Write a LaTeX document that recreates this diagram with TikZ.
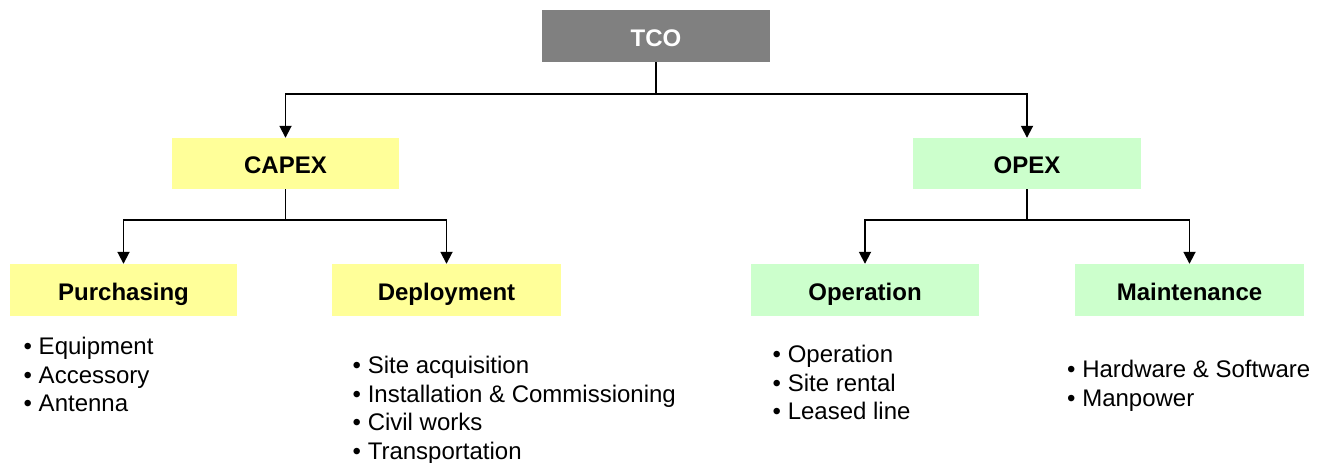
\documentclass[tikz,border=0pt]{standalone}
\usepackage{fontspec}
\setmainfont{Liberation Sans}
\usetikzlibrary{arrows.meta}
\definecolor{tcogray}{RGB}{128,128,128}
\definecolor{capyellow}{RGB}{255,255,153}
\definecolor{opgreen}{RGB}{204,255,204}
\begin{document}
\begin{tikzpicture}[x=1pt,y=-1pt,
  box/.style={draw=none,inner sep=0pt,font=\fontsize{24}{28.5}\selectfont\bfseries,minimum height=52pt,text height=20pt,text depth=0pt},
  listtext/.style={inner sep=0pt,anchor=base west,font=\fontsize{24}{28.5}\selectfont},
  arr/.style={line width=1.8pt,-{Triangle[width=12pt,length=12pt]}}]
\useasboundingbox (0,0) rectangle (1326,463);
\node[box,fill=tcogray,text=white,minimum width=228pt] (tco) at (656,36) {TCO};
\node[box,fill=capyellow,minimum width=227pt,minimum height=51pt] (capex) at (285.5,163.5) {CAPEX};
\node[box,fill=opgreen,minimum width=228pt,minimum height=51pt] (opex) at (1027,163.5) {OPEX};
\node[box,fill=capyellow,minimum width=227pt] (purch) at (123.5,290) {Purchasing};
\node[box,fill=capyellow,minimum width=229pt] (deploy) at (446.5,290) {Deployment};
\node[box,fill=opgreen,minimum width=228pt] (oper) at (865,290) {Operation};
\node[box,fill=opgreen,minimum width=229pt] (maint) at (1189.5,290) {Maintenance};
\coordinate (bus0) at (656,94);
\coordinate (bus1) at (285,220);
\coordinate (bus2) at (1027,220);
\draw[arr] (tco.south) -- (tco.south |- bus0) -| (capex.north);
\draw[arr] (tco.south) -- (tco.south |- bus0) -| (opex.north);
\draw[arr] (capex.south) -- (capex.south |- bus1) -| (purch.north);
\draw[arr] (capex.south) -- (capex.south |- bus1) -| (deploy.north);
\draw[arr] (opex.south) -- (opex.south |- bus2) -| (oper.north);
\draw[arr] (opex.south) -- (opex.south |- bus2) -| (maint.north);
\node[listtext] (plist) at (23.5,354.5) {\begin{tabular}[t]{@{}l@{}}• Equipment\\• Accessory\\• Antenna\end{tabular}};
\node[listtext] (dlist) at (352.5,373.5) {\begin{tabular}[t]{@{}l@{}}• Site acquisition\\• Installation \& Commissioning\\• Civil works\\• Transportation\end{tabular}};
\node[listtext] (olist) at (772.5,362.5) {\begin{tabular}[t]{@{}l@{}}• Operation\\• Site rental\\• Leased line\end{tabular}};
\node[listtext] (mlist) at (1067,377.5) {\begin{tabular}[t]{@{}l@{}}• Hardware \& Software\\• Manpower\end{tabular}};
\end{tikzpicture}
\end{document}
